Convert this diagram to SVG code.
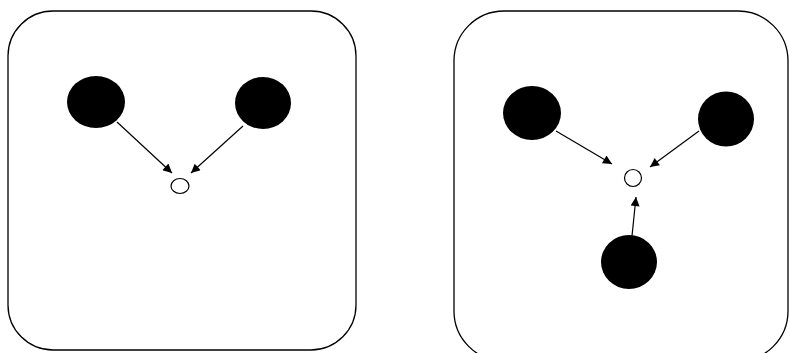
<svg xmlns="http://www.w3.org/2000/svg" width="790" height="353" viewBox="0 0 790 353">
<defs>
<style>
.panel{fill:#fff;stroke:#000;stroke-width:1.3}
.dot{fill:#000}
.small{fill:#fff;stroke:#000;stroke-width:1.2}
.edge{stroke:#000;stroke-width:1.2;fill:none;marker-end:url(#ah)}
</style>
<marker id="ah" viewBox="0 0 10 10" refX="10" refY="5" markerWidth="12" markerHeight="9" markerUnits="userSpaceOnUse" orient="auto">
<path d="M0,0 L10,5 L0,10 z" fill="#000"/>
</marker>
</defs>
<rect width="790" height="353" fill="#fff"/>
<g id="panel-left"><rect class="panel" x="8" y="11" width="348" height="339" rx="45" ry="45"/></g>
<g id="panel-right"><rect class="panel" x="454" y="11" width="334" height="350" rx="50" ry="50"/></g>
<g id="l-a"><ellipse class="dot" cx="96" cy="102" rx="29" ry="26"/></g>
<g id="l-b"><ellipse class="dot" cx="263" cy="103" rx="28" ry="26"/></g>
<g id="l-c"><ellipse class="small" cx="180" cy="186" rx="9" ry="7.5"/></g>
<g id="r-a"><ellipse class="dot" cx="532" cy="113" rx="29" ry="27"/></g>
<g id="r-b"><ellipse class="dot" cx="726" cy="119" rx="28" ry="27.5"/></g>
<g id="r-c"><ellipse class="dot" cx="629" cy="262" rx="28" ry="27"/></g>
<g id="r-d"><ellipse class="small" cx="633" cy="178" rx="8.5" ry="8.5"/></g>
<g id="connectors">
<line class="edge" x1="117" y1="122" x2="172" y2="173"/>
<line class="edge" x1="243" y1="126" x2="191" y2="173"/>
<line class="edge" x1="556" y1="131" x2="612" y2="164"/>
<line class="edge" x1="699" y1="131" x2="650" y2="167"/>
<line class="edge" x1="632" y1="236" x2="636" y2="197"/>
</g>
</svg>
